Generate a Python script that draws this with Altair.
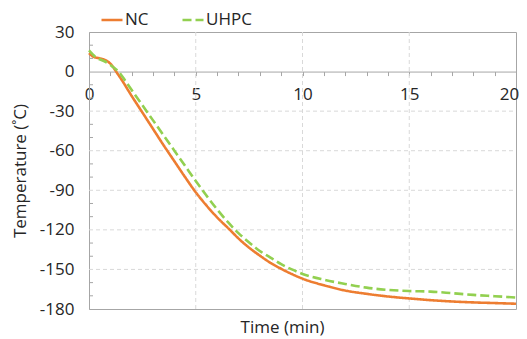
import altair as alt
import pandas as pd

# ---- data ----
nc_time = [0, 0.2, 0.5, 0.75, 1.0, 1.15, 1.27, 1.5, 2, 2.5, 3, 3.5, 4, 4.5, 5, 5.5, 6, 6.6,
           7, 7.5, 8, 8.5, 9, 9.5, 10, 11, 12, 13, 14, 15, 16, 17, 18, 19, 20]
nc_temp = [14, 11.3, 10, 8.8, 6, 3, 0, -5.5, -18.5, -31, -43.5, -56, -68, -80, -91.5, -101.5,
           -110.5, -120, -126.5, -133.5, -139.5, -145, -149.5, -153.5, -157, -162, -166,
           -168.5, -170.5, -172, -173.3, -174.3, -175, -175.5, -176]

uhpc_time = [0, 0.35, 0.7, 1.0, 1.2, 1.38, 1.7, 2, 2.5, 3, 3.5, 4, 4.5, 5, 5.5, 6, 6.5, 7,
             7.5, 8, 8.5, 9, 9.5, 10, 11, 12, 13, 14, 15, 16, 17, 18, 19, 20]
uhpc_temp = [16, 10.5, 8, 5, 2.5, 0, -7, -14, -25.5, -37, -48.5, -60, -71.5, -83, -94,
             -104.5, -114, -122.5, -129.5, -136, -141, -146, -150, -153.4, -157.8, -161,
             -163.8, -165.5, -166.4, -166.8, -168, -169.3, -170.3, -171.3]

series_names = ["NC", "UHPC"]
series_colors = ["#ED7D31", "#92D050"]

x_ticks = list(range(0, 21))
x_grid = [5, 10, 15]
y_labels = [30, 0, -30, -60, -90, -120, -150, -180]
y_grid = [-30, -60, -90, -120, -150]
y_minor = [20, 10, -10, -20, -40, -50, -70, -80, -100, -110, -130, -140, -160, -170]

W, H = 427, 277
FONT = "Open Sans"
GRID = "#D9D9D9"
FRAME = "#A6A6A6"
TEXT = "#262626"

df = pd.concat([
    pd.DataFrame({"time": nc_time, "temp": nc_temp, "series": "NC"}),
    pd.DataFrame({"time": uhpc_time, "temp": uhpc_temp, "series": "UHPC"}),
])

xscale = alt.Scale(domain=[0, 20], nice=False, zero=False)
yscale = alt.Scale(domain=[-180, 30], nice=False, zero=False)

zero_offset = -(H - H * 30 / 210)

x_axis = alt.Axis(values=x_ticks, offset=zero_offset, title=None,
                  labelExpr="datum.value % 5 == 0 ? '' + datum.value : ''",
                  labelOffset={"condition": {"test": "datum.value == 20", "value": -7},
                               "value": 0},
                  tickSize=4, tickColor=FRAME, domainColor=FRAME,
                  labelPadding=11, labelFontSize=17, labelFont=FONT,
                  labelColor=TEXT, grid=False, labelFlush=False)
y_axis = alt.Axis(values=y_labels, title="Temperature (˚C)", ticks=False,
                  labelExpr="'' + datum.value",
                  domainColor=FRAME, grid=False, labelPadding=15,
                  labelFontSize=17, labelFont=FONT, labelColor=TEXT,
                  titleFontSize=17, titleFont=FONT, titleFontWeight="normal",
                  titleColor=TEXT, titlePadding=10)

gridx = alt.Chart(pd.DataFrame({"gx": x_grid})).mark_rule(
    color=GRID, strokeDash=[4, 3], strokeWidth=1
).encode(
    x=alt.X("gx:Q", scale=xscale, axis=x_axis),
    y=alt.value(0), y2=alt.value(H),
)

gridy = alt.Chart(pd.DataFrame({"gy": y_grid})).mark_rule(
    color=GRID, strokeDash=[4, 3], strokeWidth=1
).encode(
    y=alt.Y("gy:Q", scale=yscale, axis=y_axis),
    x=alt.value(0), x2=alt.value(W),
)

minor = alt.Chart(pd.DataFrame({"my": y_minor})).mark_rule(
    color=FRAME, strokeWidth=1
).encode(
    y=alt.Y("my:Q", scale=yscale, axis=y_axis),
    x=alt.value(0), x2=alt.value(4),
)

lines = alt.Chart(df).mark_line(interpolate="monotone", strokeWidth=2.6).encode(
    x=alt.X("time:Q", scale=xscale, axis=x_axis),
    y=alt.Y("temp:Q", scale=yscale, axis=y_axis),
    color=alt.Color("series:N", scale=alt.Scale(domain=series_names, range=series_colors),
                    legend=alt.Legend(title=None, orient="none", direction="horizontal",
                                      legendX=11, legendY=-24, symbolType="stroke",
                                      symbolSize=441, symbolStrokeWidth=2.6,
                                      labelFontSize=17, labelFont=FONT, labelColor=TEXT,
                                      labelOffset=1, columnPadding=28, padding=0)),
    strokeDash=alt.StrokeDash("series:N",
                              scale=alt.Scale(domain=series_names, range=[[1, 0], [9, 4]]),
                              legend=None),
)

chart = alt.layer(gridx, gridy, minor, lines).properties(
    width=W, height=H,
    title=alt.TitleParams("Time (min)", orient="bottom", fontSize=17, font=FONT,
                          fontWeight="normal", color=TEXT, offset=3, dx=-20),
    padding={"left": 81, "top": 24, "right": 3, "bottom": 30},
    autosize=alt.AutoSizeParams(type="none"),
).configure_view(stroke=FRAME, strokeWidth=1)

chart.save("out.html", embed_options={"renderer": "svg", "actions": False})
